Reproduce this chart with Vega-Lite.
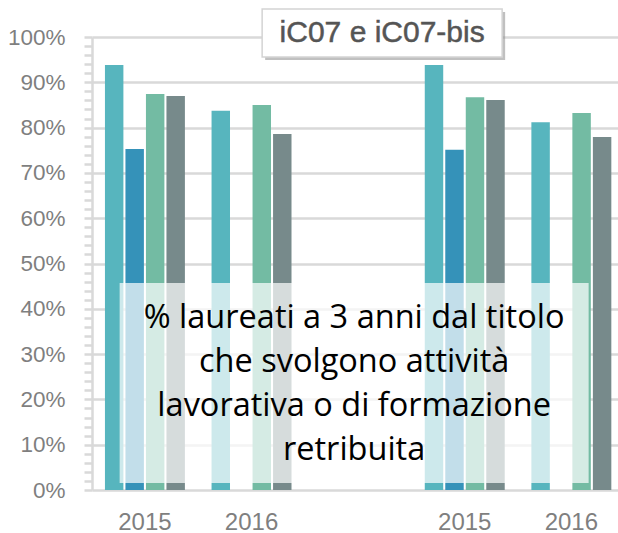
{
  "$schema": "https://vega.github.io/schema/vega-lite/v6.json",
  "width": 526,
  "height": 453,
  "autosize": {"type": "none"},
  "padding": {"left": 92, "top": 37, "right": 0, "bottom": 43},
  "background": "white",
  "config": {"view": {"stroke": null}},
  "datasets": {
    "bars": [
      {"grp": "A2015", "s": "s1", "v": 0.938},
      {"grp": "A2015", "s": "s2", "v": 0.753},
      {"grp": "A2015", "s": "s3", "v": 0.874},
      {"grp": "A2015", "s": "s4", "v": 0.870},
      {"grp": "A2016", "s": "s1", "v": 0.837},
      {"grp": "A2016", "s": "s3", "v": 0.850},
      {"grp": "A2016", "s": "s4", "v": 0.786},
      {"grp": "B2015", "s": "s1", "v": 0.938},
      {"grp": "B2015", "s": "s2", "v": 0.751},
      {"grp": "B2015", "s": "s3", "v": 0.867},
      {"grp": "B2015", "s": "s4", "v": 0.861},
      {"grp": "B2016", "s": "s1", "v": 0.812},
      {"grp": "B2016", "s": "s3", "v": 0.832},
      {"grp": "B2016", "s": "s4", "v": 0.779}
    ],
    "note": [{"t": "note"}]
  },
  "layer": [
    {
      "data": {"name": "bars"},
      "mark": {"type": "bar"},
      "encoding": {
        "x": {
          "field": "grp",
          "type": "nominal",
          "sort": null,
          "scale": {"domain": ["A2015", "A2016", "-", "B2015", "B2016"], "paddingInner": 0.25, "paddingOuter": 0.092, "align": 0.66},
          "axis": {"title": null, "domain": false, "ticks": false, "labelAngle": 0, "labelExpr": "slice(datum.label, 1)", "labelFont": "Liberation Sans", "labelFontSize": 24, "labelColor": "#7f7f7f", "labelPadding": 20}
        },
        "xOffset": {
          "field": "s",
          "type": "nominal",
          "scale": {"domain": ["s1", "s2", "s3", "s4"], "paddingInner": 0.1, "paddingOuter": 0}
        },
        "y": {
          "field": "v",
          "type": "quantitative",
          "scale": {"domain": [0, 1], "nice": false},
          "axis": {
            "title": null,
            "values": [0,0.02,0.04,0.06,0.08,0.1,0.12,0.14,0.16,0.18,0.2,0.22,0.24,0.26,0.28,0.3,0.32,0.34,0.36,0.38,0.4,0.42,0.44,0.46,0.48,0.5,0.52,0.54,0.56,0.58,0.6,0.62,0.64,0.66,0.68,0.7,0.72,0.74,0.76,0.78,0.8,0.82,0.84,0.86,0.88,0.9,0.92,0.94,0.96,0.98,1],
            "tickCount": 100,
            "format": ".0%",
            "labelExpr": "round(datum.value*100) % 10 == 0 ? datum.label : ''",
            "labelOverlap": false,
            "labelFont": "Liberation Sans",
            "labelFontSize": 22.5,
            "labelColor": "#7f7f7f",
            "labelPadding": 19,
            "grid": true,
            "gridColor": "#d9d9d9",
            "gridWidth": 2.5,
            "gridOpacity": {"condition": {"test": "round(datum.value*100) % 10 == 0", "value": 1}, "value": 0},
            "tickColor": "#d9d9d9",
            "tickSize": 8,
            "tickWidth": 2.5,
            "domainColor": "#d9d9d9",
            "domainWidth": 2.5
          }
        },
        "color": {
          "field": "s",
          "type": "nominal",
          "scale": {"domain": ["s1", "s2", "s3", "s4"], "range": ["#57b5be", "#3592b9", "#73bba3", "#778a8b"]},
          "legend": null
        }
      }
    },
    {
      "data": {"name": "note"},
      "mark": {"type": "bar", "width": 469, "xOffset": -4, "color": "white", "opacity": 0.7},
      "encoding": {
        "x": {"datum": "-", "type": "nominal"},
        "y": {"datum": 0.457, "type": "quantitative"},
        "y2": {"datum": 0.0155}
      }
    },
    {
      "data": {"name": "note"},
      "mark": {"type": "text", "text": ["% laureati a 3 anni dal titolo", "che svolgono attività", "lavorativa o di formazione", "retribuita"], "font": "Open Sans", "fontSize": 32.5, "lineHeight": 44, "align": "center", "baseline": "alphabetic", "color": "#000000", "xOffset": -4},
      "encoding": {
        "x": {"datum": "-", "type": "nominal"},
        "y": {"datum": 0.358, "type": "quantitative"}
      }
    },
    {
      "data": {"name": "note"},
      "mark": {"type": "bar", "width": 240, "xOffset": 27, "color": "#8c8c8c", "opacity": 0.55},
      "encoding": {
        "x": {"datum": "-", "type": "nominal"},
        "y": {"datum": 1.055, "type": "quantitative"},
        "y2": {"datum": 0.949}
      }
    },
    {
      "data": {"name": "note"},
      "mark": {"type": "bar", "width": 240, "xOffset": 24, "color": "white", "stroke": "#d4d4d4", "strokeWidth": 1.5},
      "encoding": {
        "x": {"datum": "-", "type": "nominal"},
        "y": {"datum": 1.062, "type": "quantitative"},
        "y2": {"datum": 0.956}
      }
    },
    {
      "data": {"name": "note"},
      "mark": {"type": "text", "text": "iC07 e iC07-bis", "font": "Liberation Sans", "fontSize": 30, "align": "center", "baseline": "alphabetic", "color": "#555555", "stroke": "#555555", "strokeWidth": 0.5, "xOffset": 24},
      "encoding": {
        "x": {"datum": "-", "type": "nominal"},
        "y": {"datum": 0.989, "type": "quantitative"}
      }
    }
  ]
}
